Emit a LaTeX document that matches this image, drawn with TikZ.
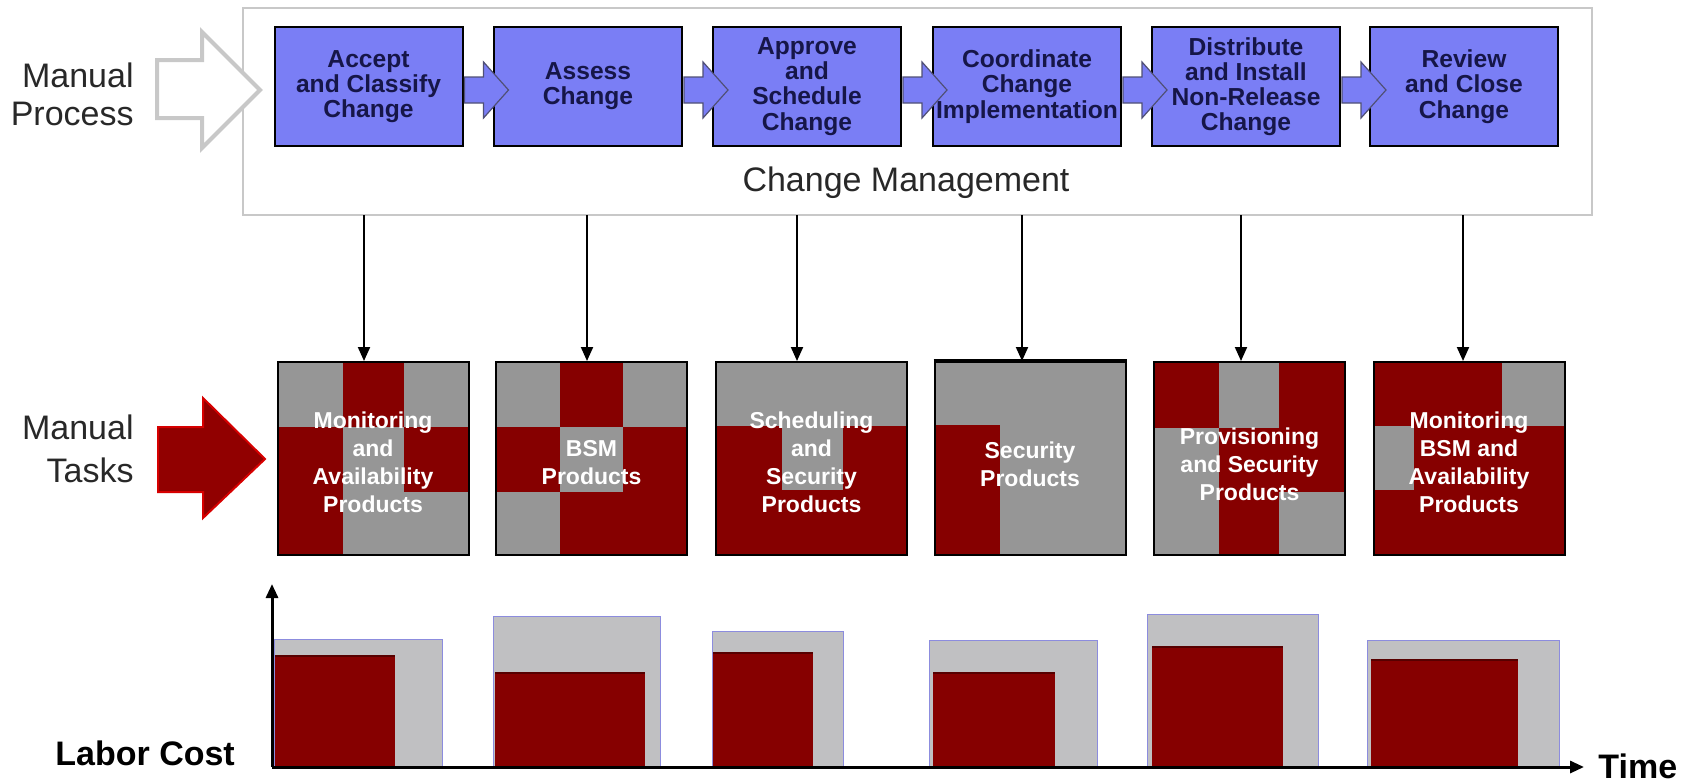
\documentclass[tikz,border=0pt]{standalone}
\usepackage{fontspec}
\setmainfont{Liberation Sans}
\usetikzlibrary{arrows.meta,calc}
\definecolor{boxblue}{RGB}{122,126,245}
\definecolor{navy}{RGB}{22,22,72}
\definecolor{dred}{RGB}{134,0,0}
\definecolor{pgray}{RGB}{150,150,150}
\definecolor{bgray}{RGB}{192,192,194}
\definecolor{bline}{RGB}{140,140,222}
\definecolor{fgray}{RGB}{200,200,200}
\definecolor{txtgray}{RGB}{40,40,40}
\definecolor{arrowred}{RGB}{145,0,0}
\definecolor{brightred}{RGB}{215,0,0}
\begin{document}
\begin{tikzpicture}[x=0.5pt,y=-0.5pt,
  stepbox/.style={draw=black, line width=1pt, fill=boxblue, minimum width=94pt, minimum height=59.5pt, inner sep=0pt, align=center, text=navy, font=\fontsize{12.3}{12.6}\selectfont\bfseries},
  prodbox/.style={draw=black, line width=1pt, minimum width=95.5pt, minimum height=96.5pt, inner sep=0pt},
  prodtext/.style={text=white, align=center, inner sep=0pt, font=\fontsize{11.5}{14}\selectfont\bfseries},
  flowarrow/.style={fill=boxblue, draw=navy!75, line width=0.6pt, line join=miter},
  downarrow/.style={draw=black, line width=1pt, -{Triangle[length=7pt,width=6pt]}},
  sidelabel/.style={anchor=base east, inner sep=0pt, text=txtgray, font=\fontsize{17}{20}\selectfont},
  axislabel/.style={anchor=base west, inner sep=0pt, text=black, font=\fontsize{17}{19}\selectfont\bfseries},
  gbar/.style={fill=bgray, draw=bline, line width=0.5pt},
  rbar/.style={fill=dred},
  rtop/.style={draw=dred!65!black, line width=1pt},
  axisline/.style={draw=black, line width=1.5pt, -{Triangle[length=7pt,width=6pt]}}
]
\useasboundingbox (0,0) rectangle (1686,783);
\fill[white] (0,0) rectangle (1686,783);

% ---------- Change management frame ----------
\node[draw=fgray, line width=0.8pt, fill=white, minimum width=674.5pt, minimum height=103.5pt, inner sep=0pt] (frame) at (917.5,111.5) {};
\node[text=txtgray, font=\fontsize{17}{19}\selectfont] (cm) at (906,183) {Change Management};

% ---------- left labels and big arrows ----------
\node[sidelabel] (mp1) at (134,87) {Manual};
\node[sidelabel] (mp2) at (134,125) {Process};
\node[sidelabel] (mt1) at (134,439) {Manual};
\node[sidelabel] (mt2) at (134,482) {Tasks};

\draw[line width=2pt, draw=fgray, fill=white, line join=miter]
  (157,60) -- (202,60) -- (202,32) -- (260,90) -- (202,148) -- (202,118) -- (157,118) -- cycle;

% ---------- process steps ----------
\node[stepbox] (b1) at (368.5,86.5) {Accept\\and Classify\\Change};
\node[stepbox] (b2) at (588,86.5) {Assess\\Change};
\node[stepbox] (b3) at (807,86.5) {Approve\\and\\Schedule\\Change};
\node[stepbox] (b4) at (1027,86.5) {Coordinate\\Change\\Implementation};
\node[stepbox] (b5) at (1246,86.5) {Distribute\\and Install\\Non-Release\\Change};
\node[stepbox] (b6) at (1464,86.5) {Review\\and Close\\Change};

\foreach \b in {b1,b2,b3,b4,b5}{
  \begin{scope}[shift={(\b.east)}]
    \draw[flowarrow] (1,-9.5) -- (20,-9.5) -- (20,-24.5) -- (45,3.5) -- (20,31.5) -- (20,16.5) -- (1,16.5) -- cycle;
  \end{scope}
}

% ---------- product boxes ----------
% box 1
\fill[pgray] (277.5,362) rectangle (468.5,555);
\fill[dred] (343,362) rectangle (404,427);
\fill[dred] (277.5,427) rectangle (343,555);
\fill[dred] (404,427) rectangle (468.5,492);
% box 2
\fill[dred] (496,362) rectangle (687,555);
\fill[pgray] (496,362) rectangle (560,427);
\fill[pgray] (623,362) rectangle (687,427);
\fill[pgray] (560,427) rectangle (623,492);
\fill[pgray] (496,492) rectangle (560,555);
% box 3
\fill[dred] (716,362) rectangle (907,555);
\fill[pgray] (716,362) rectangle (907,426);
\fill[pgray] (782,426) rectangle (843,490);
% box 4
\fill[pgray] (934.5,362) rectangle (1125.5,555);
\fill[dred] (934.5,425) rectangle (1000,555);
% box 5
\fill[dred] (1154,362) rectangle (1345,555);
\fill[pgray] (1219,362) rectangle (1279,428);
\fill[pgray] (1154,428) rectangle (1219,555);
\fill[pgray] (1279,492) rectangle (1345,555);
% box 6
\fill[dred] (1373.5,362) rectangle (1564.5,555);
\fill[pgray] (1502,362) rectangle (1564.5,426);
\fill[pgray] (1373.5,426) rectangle (1414,490);

\node[prodbox] (p1) at (373,458.5) {};
\node[prodbox] (p2) at (591.5,458.5) {};
\node[prodbox] (p3) at (811.5,458.5) {};
\node[prodbox] (p4) at (1030,458.5) {};
\node[prodbox] (p5) at (1249.5,458.5) {};
\node[prodbox] (p6) at (1469,458.5) {};
\draw[line width=2pt] (p4.north west) -- (p4.north east);

\node[prodtext] (t1) at ([yshift=-2pt]p1.center) {Monitoring\\and\\Availability\\Products};
\node[prodtext] (t2) at ([yshift=-2pt]p2.center) {BSM\\Products};
\node[prodtext] (t3) at ([yshift=-2pt]p3.center) {Scheduling\\and\\Security\\Products};
\node[prodtext] (t4) at ([yshift=-3pt]p4.center) {Security\\Products};
\node[prodtext] (t5) at ([yshift=-3pt]p5.center) {Provisioning\\and Security\\Products};
\node[prodtext] (t6) at ([yshift=-2pt]p6.center) {Monitoring\\BSM and\\Availability\\Products};

\draw[fill=arrowred, draw=brightred, line width=1pt, line join=miter]
  (158,427) -- (203,427) -- (203,398) -- (265,459) -- (203,518) -- (203,492) -- (158,492) -- cycle;

% ---------- connectors ----------
\coordinate (c1) at (364,215);
\coordinate (c2) at (587,215);
\coordinate (c3) at (797,215);
\coordinate (c4) at (1022,215);
\coordinate (c5) at (1241,215);
\coordinate (c6) at (1463,215);
\draw[downarrow] (c1) -- (c1 |- p1.north);
\draw[downarrow] (c2) -- (c2 |- p2.north);
\draw[downarrow] (c3) -- (c3 |- p3.north);
\draw[downarrow] (c4) -- (c4 |- p4.north);
\draw[downarrow] (c5) -- (c5 |- p5.north);
\draw[downarrow] (c6) -- (c6 |- p6.north);

% ---------- labor cost chart ----------
\draw[gbar] (274,766) rectangle (442,639);
\fill[rbar] (275,766) rectangle (395,655);
\draw[rtop] (275,655.5) -- (395,655.5);

\draw[gbar] (493,766) rectangle (660,616);
\fill[rbar] (495,766) rectangle (645,672);
\draw[rtop] (495,672.5) -- (645,672.5);

\draw[gbar] (712,766) rectangle (843,631);
\fill[rbar] (713,766) rectangle (813,652);
\draw[rtop] (713,652.5) -- (813,652.5);

\draw[gbar] (929,766) rectangle (1097,640);
\fill[rbar] (933,766) rectangle (1055,672);
\draw[rtop] (933,672.5) -- (1055,672.5);

\draw[gbar] (1147,766) rectangle (1318,614);
\fill[rbar] (1152,766) rectangle (1283,646);
\draw[rtop] (1152,646.5) -- (1283,646.5);

\draw[gbar] (1367,766) rectangle (1559,640);
\fill[rbar] (1371,766) rectangle (1518,659);
\draw[rtop] (1371,659.5) -- (1518,659.5);

\coordinate (o) at (272,767);
\coordinate (ytop) at (272,584);
\coordinate (xend) at (1584,767);
\draw[axisline] (o) -- (ytop);
\draw[axisline] (o) -- (xend);

\node[axislabel] (lc) at (55,765) {Labor Cost};
\node[axislabel] (tm) at (1598,778) {Time};
\end{tikzpicture}
\end{document}
